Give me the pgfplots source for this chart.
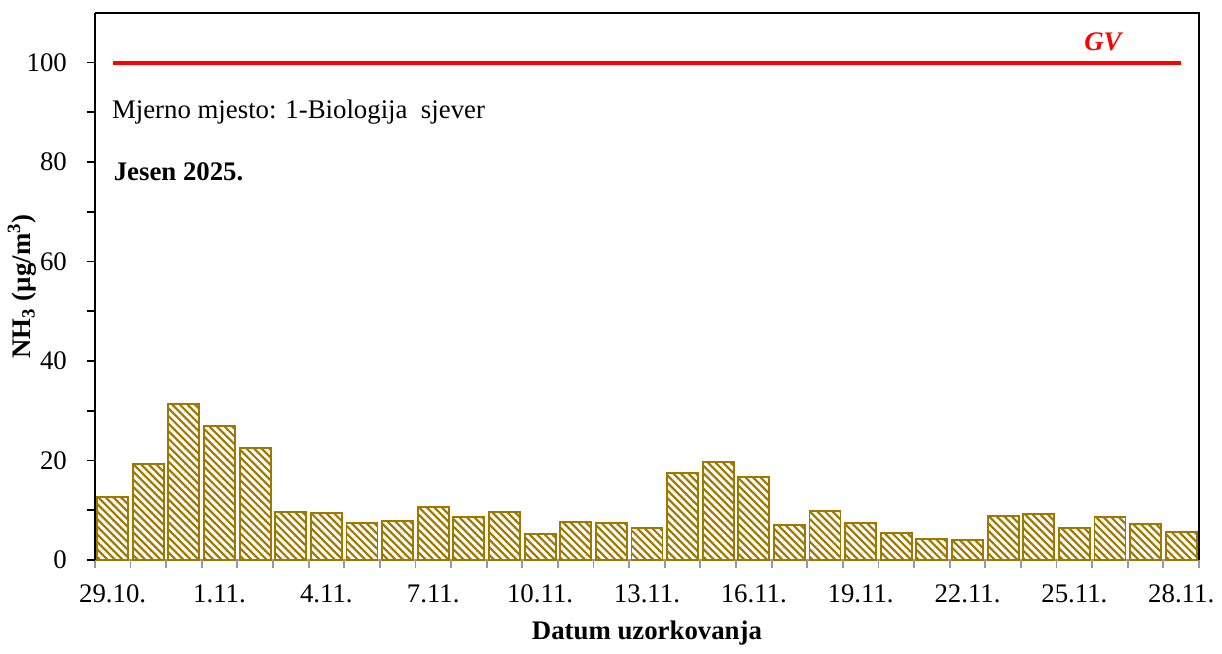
\documentclass[border=0pt]{standalone}
\usepackage{fontspec}
\setmainfont{Liberation Serif}
\usepackage{pgfplots}
\pgfplotsset{compat=1.18}
\usetikzlibrary{patterns.meta}
\definecolor{bargold}{RGB}{158,120,0}
\definecolor{gvred}{RGB}{255,0,0}

\begin{document}
\begin{tikzpicture}
\begin{axis}[
  width=16.65cm, height=8.25cm, scale only axis,
  ybar, bar width=0.87,
  xmin=-0.5, xmax=30.5,
  ymin=0, ymax=110,
  axis x line*=bottom, axis y line*=left,
  x axis line style={gray!80, line width=0.8pt},
  y axis line style={black, line width=0.8pt},
  xtick={0,3,...,30},
  xticklabels={29.10., 1.11., 4.11., 7.11., 10.11., 13.11., 16.11., 19.11., 22.11., 25.11., 28.11.},
  minor xtick={-0.5,0.5,...,30.5},
  ytick={0,20,...,100},
  minor ytick={10,30,...,90},
  tick align=outside,
  x tick style={gray!80, line width=0.8pt},
  major x tick style={draw=none},
  y tick style={black, line width=0.8pt},
  major tick length=3.5pt, minor tick length=3.5pt,
  tick label style={font=\fontsize{11.5pt}{13pt}\selectfont},
  xticklabel style={yshift=-3.5pt},
  yticklabel style={xshift=-5pt},
  /pgf/number format/assume math mode=true,
  xlabel={\textbf{Datum uzorkovanja}},
  ylabel={\textbf{NH\textsubscript{3} (µg/m\textsuperscript{3})}},
  label style={font=\fontsize{11.5pt}{13pt}\selectfont},
  xlabel style={yshift=-1pt},
  ylabel style={yshift=-11pt},
  clip=false,
]
\addplot[draw=bargold, line width=0.8pt, fill=bargold,
  postaction={pattern={Lines[angle=-45,distance=2.3pt,line width=1.25pt]}, pattern color=white}]
  coordinates {
  (0,12.6) (1,19.3) (2,31.3) (3,26.9) (4,22.5) (5,9.6) (6,9.4) (7,7.4)
  (8,7.8) (9,10.6) (10,8.6) (11,9.6) (12,5.2) (13,7.6) (14,7.4) (15,6.4)
  (16,17.5) (17,19.7) (18,16.7) (19,7.0) (20,9.8) (21,7.4) (22,5.4) (23,4.2)
  (24,4.0) (25,8.8) (26,9.2) (27,6.4) (28,8.6) (29,7.2) (30,5.6)
  };
\addplot[sharp plot, draw=gvred, line width=1.7pt, forget plot]
  coordinates {(0,100) (30,100)};
\draw[black, line width=0.8pt] (rel axis cs:0,1) -- (rel axis cs:1,1) -- (rel axis cs:1,0);
\path (rel axis cs:0,1) ++(0,5.5pt);
\node[anchor=base, text=gvred, font=\fontsize{11.5pt}{13pt}\selectfont\bfseries\itshape]
  at (axis cs:27.8,102.5) {GV};
\node[anchor=west, font=\fontsize{11.5pt}{13pt}\selectfont]
  at (axis cs:-0.25,90) {Mjerno mjesto: 1-Biologija\ \ sjever};
\node[anchor=west, font=\fontsize{11.5pt}{13pt}\selectfont\bfseries]
  at (axis cs:-0.2,78) {Jesen 2025.};
\end{axis}
\end{tikzpicture}
\end{document}
